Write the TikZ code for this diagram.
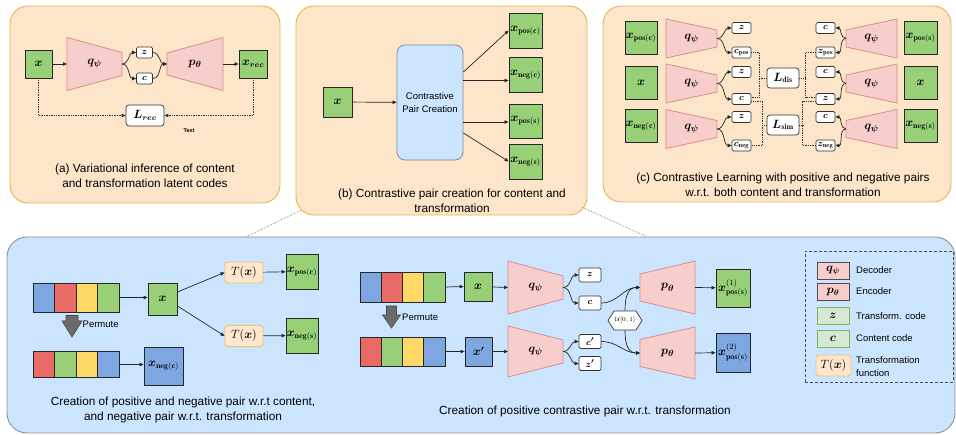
\documentclass[tikz,border=0pt]{standalone}
\usepackage{amsmath,bm}
\usepackage{fontspec}
\setsansfont{Liberation Sans}
\usetikzlibrary{arrows.meta,shapes.symbols,calc}
\definecolor{orF}{HTML}{FDE5C9}
\definecolor{orD}{HTML}{E2B653}
\definecolor{blF}{HTML}{CCE5FF}
\definecolor{blD}{HTML}{8A8F96}
\definecolor{grF}{HTML}{97D077}
\definecolor{bcF}{HTML}{7EA6E0}
\definecolor{rdF}{HTML}{EA6B66}
\definecolor{ylF}{HTML}{FFD966}
\definecolor{pkF}{HTML}{F8CECC}
\definecolor{pkD}{HTML}{D98C8A}
\definecolor{tF}{HTML}{FFE6CC}
\definecolor{tD}{HTML}{E8C46A}
\definecolor{lgF}{HTML}{D5E8D4}
\definecolor{lgD}{HTML}{82B366}
\definecolor{cpD}{HTML}{7C8DA3}
\definecolor{pmF}{HTML}{6B6B6B}
\definecolor{pmD}{HTML}{4A4A4A}
\newcommand{\myMfs}{\sffamily\fontsize{12}{14}\selectfont}
\newcommand{\myTfs}{\sffamily\fontsize{13}{15}\selectfont}
\newcommand{\myCfs}{\sffamily\fontsize{9.5}{11}\selectfont}
\newcommand{\myCapfs}{\sffamily\fontsize{11.8}{15}\selectfont}
\newcommand{\myLfs}{\sffamily\fontsize{9.5}{12.5}\selectfont}
\newcommand{\mytrap}[7]{%
  \draw[trapst] (#2,#4-#5) -- (#3,#4-#6) -- (#3,#4+#6) -- (#2,#4+#5) -- cycle;
  \coordinate (#1-w) at (#2,#4);
  \coordinate (#1-e) at (#3,#4);
  \node[font=\myTfs] (#1) at ({(#2+#3)/2},#4) {#7};}
\begin{document}
\begin{tikzpicture}[x=1pt,y=-1pt,font=\sffamily,
 panelO/.style={draw=orD, fill=orF, line width=0.9pt, rounded corners=18pt, inner sep=0},
 panelB/.style={draw=blD, fill=blF, line width=0.9pt, rounded corners=20pt, inner sep=0},
 gbox/.style={draw=black!85, fill=grF, line width=0.8pt, inner sep=0, font=\myMfs},
 bbox/.style={gbox, fill=bcF},
 code/.style={draw=black!80, fill=white, rounded corners=1.5pt, line width=0.7pt, inner sep=0, minimum width=19pt, minimum height=11pt, font=\myCfs},
 lbox/.style={code, minimum width=32pt, minimum height=20pt, rounded corners=3pt, font=\myMfs},
 tbox/.style={draw=tD, fill=tF, rounded corners=3pt, line width=0.9pt, inner sep=0, minimum width=38pt, minimum height=21pt, font=\myMfs},
 trapst/.style={draw=pkD, fill=pkF, line width=0.8pt},
 arr/.style={-{Triangle[length=4pt,width=3.4pt]}, line width=0.7pt, black!85},
 dotl/.style={densely dotted, line width=0.75pt, black!80},
 link/.style={densely dotted, line width=0.6pt, black!60},
 captxt/.style={font=\myCapfs, align=center},
 lab/.style={font=\myLfs, inner sep=0},
 cell/.style={draw=black!85, line width=0.8pt, minimum width=21.5pt, inner sep=0},
 permst/.style={fill=pmF, draw=pmD, line width=0.6pt},
]
\useasboundingbox (0,0) rectangle (956,435);

% ---------- panel (a)
\node[panelO, minimum width=270pt, minimum height=197pt] (PA) at (145,104.5) {};
\node[gbox, minimum width=27pt, minimum height=28pt] (ax) at (38.5,64) {$\bm{x}$};
\mytrap{qa}{67}{122}{64}{26.5}{11.5}{$\bm{q}_{\bm\psi}$}
\node[code, minimum width=16pt] (az) at (144.5,52.5) {$\bm{z}$};
\node[code, minimum width=16pt] (ac) at (144.5,78.5) {$\bm{c}$};
\mytrap{pa}{167}{223}{64}{11}{26.5}{$\bm{p}_{\bm\theta}$}
\node[gbox, minimum width=28pt, minimum height=28pt] (axr) at (253,64) {$\bm{x}_{\bm{rec}}$};
\node[lbox, minimum width=38pt, minimum height=21pt] (alr) at (145,115.5) {$\bm{L}_{\bm{rec}}$};
\node[font=\sffamily\fontsize{5.5}{6}\selectfont\bfseries] (atx) at (189,131) {Text};
\node[captxt] (acap) at (145,175.5) {(a) Variational inference of content\\and transformation latent codes};
\draw[arr] (ax) -- (qa-w);
\draw[arr] (qa-e) to[out=0,in=180] (az.west);
\draw[arr] (qa-e) to[out=0,in=180] (ac.west);
\draw[arr] (az.east) to[out=0,in=180] (pa-w);
\draw[arr] (ac.east) to[out=0,in=180] (pa-w);
\draw[arr] (pa-e) -- (axr);
\draw[arr,dotl] (ax.south) |- (alr.west);
\draw[arr,dotl] (axr.south) |- (alr.east);

% ---------- panel (b)
\node[panelO, minimum width=291pt, minimum height=209pt] (PB) at (441.5,110.5) {};
\node[gbox, minimum width=29pt, minimum height=30pt] (bx) at (337.5,102) {$\bm{x}$};
\node[draw=cpD, fill=blF, rounded corners=8pt, line width=0.8pt, minimum width=66pt, minimum height=115pt, align=center, font=\myLfs, inner sep=0] (cpc) at (430,102.5) {Contrastive\\Pair Creation};
\node[gbox, minimum width=33pt, minimum height=35pt] (bpc) at (525.5,30.5) {$\bm{x}_{\mathbf{pos(c)}}$};
\node[gbox, minimum width=33pt, minimum height=35pt] (bnc) at (525.5,74.5) {$\bm{x}_{\mathbf{neg(c)}}$};
\node[gbox, minimum width=33pt, minimum height=34pt] (bps) at (525.5,121) {$\bm{x}_{\mathbf{pos(s)}}$};
\node[gbox, minimum width=33pt, minimum height=35pt] (bns) at (525.5,161.5) {$\bm{x}_{\mathbf{neg(s)}}$};
\draw[arr] (bx) -- (cpc);
\draw[arr] ($(cpc.east)+(0,-30.5)$) -- (bpc.west);
\draw[arr] ($(cpc.east)+(0,-22)$) coordinate (t1) -- (t1 -| bnc.west);
\draw[arr] ($(cpc.east)+(0,19.5)$) coordinate (t2) -- (t2 -| bps.west);
\draw[arr] ($(cpc.east)+(0,30.5)$) -- (bns.west);
\node[captxt] (bcap) at (452,201) {(b) Contrastive pair creation for content and\\transformation};

% ---------- panel (c)
\node[panelO, minimum width=348pt, minimum height=196pt] (PC) at (777,104) {};
\node[gbox, minimum width=32pt, minimum height=33pt] (cl1) at (641,37.5) {$\bm{x}_{\mathbf{pos(c)}}$};
\node[gbox, minimum width=32pt, minimum height=33pt] (cl2) at (641,82.5) {$\bm{x}$};
\node[gbox, minimum width=32pt, minimum height=33pt] (cl3) at (641,125.5) {$\bm{x}_{\mathbf{neg(c)}}$};
\mytrap{ql1}{666}{717}{38.5}{19.5}{8.5}{$\bm{q}_{\bm\psi}$}
\mytrap{ql2}{666}{717}{83.5}{19.5}{8.5}{$\bm{q}_{\bm\psi}$}
\mytrap{ql3}{666}{717}{129}{19.5}{8.5}{$\bm{q}_{\bm\psi}$}
\node[code] (lz1) at (741.5,28) {$\bm{z}$};
\node[code] (lcp) at (741.5,52.5) {$\bm{c}_{\mathbf{pos}}$};
\node[code] (lz2) at (741.5,72) {$\bm{z}$};
\node[code] (lc) at (741.5,99) {$\bm{c}$};
\node[code] (lz3) at (741.5,117) {$\bm{z}$};
\node[code] (lcn) at (741.5,145.5) {$\bm{c}_{\mathbf{neg}}$};
\node[lbox] (ldis) at (783,78) {$\bm{L}_{\mathbf{dis}}$};
\node[lbox] (lsim) at (783,125) {$\bm{L}_{\mathbf{sim}}$};
\node[code] (rc1) at (825.5,28) {$\bm{c}$};
\node[code] (rzp) at (825.5,52.5) {$\bm{z}_{\mathbf{pos}}$};
\node[code] (rc2) at (825.5,72) {$\bm{c}$};
\node[code] (rz) at (825.5,99) {$\bm{z}$};
\node[code] (rc3) at (825.5,117) {$\bm{c}$};
\node[code] (rzn) at (825.5,145.5) {$\bm{z}_{\mathbf{neg}}$};
\mytrap{qr1}{846}{897}{38.5}{8.5}{19.5}{$\bm{q}_{\bm\psi}$}
\mytrap{qr2}{846}{897}{83.5}{8.5}{19.5}{$\bm{q}_{\bm\psi}$}
\mytrap{qr3}{846}{897}{129}{8.5}{19.5}{$\bm{q}_{\bm\psi}$}
\node[gbox, minimum width=33pt, minimum height=33pt] (cr1) at (920.5,37.5) {$\bm{x}_{\mathbf{pos(s)}}$};
\node[gbox, minimum width=33pt, minimum height=33pt] (cr2) at (920.5,82.5) {$\bm{x}$};
\node[gbox, minimum width=33pt, minimum height=33pt] (cr3) at (920.5,125.5) {$\bm{x}_{\mathbf{neg(s)}}$};
\draw[arr] (ql1-e) to[out=0,in=180] (lz1.west);
\draw[arr] (ql1-e) to[out=0,in=180] (lcp.west);
\draw[arr] (ql2-e) to[out=0,in=180] (lz2.west);
\draw[arr] (ql2-e) to[out=0,in=180] (lc.west);
\draw[arr] (ql3-e) to[out=0,in=180] (lz3.west);
\draw[arr] (ql3-e) to[out=0,in=180] (lcn.west);
\draw[arr] (qr1-w) to[out=180,in=0] (rc1.east);
\draw[arr] (qr1-w) to[out=180,in=0] (rzp.east);
\draw[arr] (qr2-w) to[out=180,in=0] (rc2.east);
\draw[arr] (qr2-w) to[out=180,in=0] (rz.east);
\draw[arr] (qr3-w) to[out=180,in=0] (rc3.east);
\draw[arr] (qr3-w) to[out=180,in=0] (rzn.east);
\draw[dotl] (lcp.east) -- ++(8,0) |- ($(lc.east)+(0,-2)$);
\draw[dotl] (ldis.west) -- ++(-8,0);
\draw[dotl] ($(lc.east)+(0,2)$) -- ++(11,0) |- (lcn.east);
\draw[dotl] (lsim.west) -- ++(-5,0);
\draw[dotl] (rzp.west) -- ++(-10,0) |- ($(rz.west)+(0,-2)$);
\draw[dotl] (ldis.east) -- ++(7,0);
\draw[dotl] ($(rz.west)+(0,2)$) -- ++(-13,0) |- (rzn.west);
\draw[dotl] (lsim.east) -- ++(4,0);
\node[captxt] (ccap) at (783,184.5) {(c) Contrastive Learning with positive and negative pairs\\w.r.t. both content and transformation};

% ---------- bottom panel
\node[panelB, minimum width=948pt, minimum height=196pt] (PD) at (481,335) {};
\draw[link] ($(PB.south west)+(5,-5)$) -- ($(PD.north west)+(240,0)$);
\draw[link] ($(PB.south east)+(-5,-8)$) -- ($(PD.north west)+(640,0)$);

% bottom-left
\node[cell, fill=bcF, minimum height=29pt] (s1a) at (43.75,297.5) {};
\node[cell, fill=rdF, minimum height=29pt] (s1b) at (65.25,297.5) {};
\node[cell, fill=ylF, minimum height=29pt] (s1c) at (86.75,297.5) {};
\node[cell, fill=grF, minimum height=29pt] (s1d) at (108.25,297.5) {};
\node[cell, fill=rdF, minimum height=26pt] (s2a) at (43.75,364.5) {};
\node[cell, fill=grF, minimum height=26pt] (s2b) at (65.25,364.5) {};
\node[cell, fill=ylF, minimum height=26pt] (s2c) at (86.75,364.5) {};
\node[cell, fill=bcF, minimum height=26pt] (s2d) at (108.25,364.5) {};
\node[gbox, minimum width=29pt, minimum height=32pt] (dx) at (162.5,299) {$\bm{x}$};
\node[bbox, minimum width=39pt, minimum height=38pt] (dnc) at (163.5,366) {$\bm{x}_{\mathbf{neg(c)}}$};
\node[tbox] (dt1) at (244,272.5) {$T(\bm{x})$};
\node[tbox] (dt2) at (244,336) {$T(\bm{x})$};
\node[gbox, minimum width=32pt, minimum height=35pt] (dpc) at (302,271.5) {$\bm{x}_{\mathbf{pos(c)}}$};
\node[gbox, minimum width=32pt, minimum height=35pt] (dns) at (302,335.5) {$\bm{x}_{\mathbf{neg(s)}}$};
\draw[arr] (s1d.east) -- (s1d.east -| dx.west);
\draw[arr] (s2d.east) -- (s2d.east -| dnc.west);
\draw[arr] ($(dx.east)+(0,-7)$) -- (dt1.west);
\draw[arr] ($(dx.east)+(0,7)$) -- (dt2.west);
\draw[arr] (dt1) -- (dpc);
\draw[arr] (dt2) -- (dns);
\draw[permst] (66,315.5) -- (78,315.5) -- (78,321) -- (82,321) -- (72,337) -- (62,321) -- (66,321) -- cycle;
\node[lab, anchor=west] (perm1) at (82.5,324) {Permute};
\node[captxt] (dcap) at (183,410) {Creation of positive and negative pair w.r.t content,\\and negative pair w.r.t. transformation};

% bottom-middle
\node[cell, fill=bcF, minimum width=21.25pt, minimum height=30pt] (s3a) at (370.6,287) {};
\node[cell, fill=rdF, minimum width=21.25pt, minimum height=30pt] (s3b) at (391.9,287) {};
\node[cell, fill=ylF, minimum width=21.25pt, minimum height=30pt] (s3c) at (413.1,287) {};
\node[cell, fill=grF, minimum width=21.25pt, minimum height=30pt] (s3d) at (434.4,287) {};
\node[cell, fill=rdF, minimum width=21.25pt, minimum height=29pt] (s4a) at (370.6,351.5) {};
\node[cell, fill=grF, minimum width=21.25pt, minimum height=29pt] (s4b) at (391.9,351.5) {};
\node[cell, fill=ylF, minimum width=21.25pt, minimum height=29pt] (s4c) at (413.1,351.5) {};
\node[cell, fill=bcF, minimum width=21.25pt, minimum height=29pt] (s4d) at (434.4,351.5) {};
\node[gbox, minimum width=28pt, minimum height=29pt] (ex) at (478,286.5) {$\bm{x}$};
\node[bbox, minimum width=27pt, minimum height=29pt] (ex2) at (478.5,351.5) {$\bm{x'}$};
\mytrap{eq1}{508}{563}{287.5}{26.5}{11.5}{$\bm{q}_{\bm\psi}$}
\mytrap{eq2}{508}{563}{351.5}{25.5}{11.5}{$\bm{q}_{\bm\psi}$}
\node[code, minimum width=22pt, minimum height=14pt] (ez1) at (590,275) {$\bm{z}$};
\node[code, minimum width=22pt, minimum height=14pt] (ec1) at (590,303) {$\bm{c}$};
\node[code, minimum width=22pt, minimum height=14pt] (ec2) at (590,341.5) {$\bm{c'}$};
\node[code, minimum width=22pt, minimum height=14pt] (ez2) at (590,363.5) {$\bm{z'}$};
\mytrap{ep1}{640}{695}{287.5}{13.5}{26.5}{$\bm{p}_{\bm\theta}$}
\mytrap{ep2}{640}{695}{353}{13.5}{26}{$\bm{p}_{\bm\theta}$}
\node[gbox, minimum width=34pt, minimum height=38pt] (ex1o) at (733,288) {$\bm{x}^{(1)}_{\mathbf{pos(s)}}$};
\node[bbox, minimum width=34pt, minimum height=39pt] (ex2o) at (733,352.5) {$\bm{x}^{(2)}_{\mathbf{pos(s)}}$};
\node[draw=black!80, fill=white, line width=0.7pt, shape=signal, signal to=east and west, signal pointer angle=115, minimum width=34pt, minimum height=19pt, inner sep=0, font=\fontsize{6.5}{7}\selectfont] (hex) at (625,320.5) {$\mathcal{U}[0,1]$};
\draw[arr] (s3d.east) -- (ex.west);
\draw[arr] (ex) -- (eq1-w);
\draw[arr] (eq1-e) to[out=0,in=180] (ez1.west);
\draw[arr] (eq1-e) to[out=0,in=180] (ec1.west);
\draw[arr] (s4d.east) -- (ex2.west);
\draw[arr] (ex2) -- (eq2-w);
\draw[arr] (eq2-e) to[out=0,in=180] (ec2.west);
\draw[arr] (eq2-e) to[out=0,in=180] (ez2.west);
\draw[arr] (ec1.east) to[out=0,in=180] (ep1-w);
\draw[arr] (hex.north) .. controls +(0,-14) and +(-12,0) .. (ep1-w);
\draw[arr] (ec2.east) to[out=0,in=180] (ep2-w);
\draw[arr] (hex.south) .. controls +(0,14) and +(-12,0) .. (ep2-w);
\draw[arr] (ep1-e) -- (ex1o);
\draw[arr] (ep2-e) -- (ex2o);
\draw[permst] (386.5,306) -- (396.5,306) -- (396.5,315) -- (400.5,315) -- (391.5,328) -- (382.5,315) -- (386.5,315) -- cycle;
\node[lab, anchor=west] (perm2) at (402,317) {Permute};
\node[captxt] (ecap) at (585,411) {Creation of positive contrastive pair w.r.t. transformation};

% legend
\node[draw=black!70, densely dashed, line width=0.7pt, minimum width=148pt, minimum height=131pt, inner sep=0] (leg) at (879,316.5) {};
\node[draw=black!70, fill=pkF, line width=0.8pt, minimum width=32pt, minimum height=17pt, inner sep=0, font=\myMfs] (gq) at (833,270.5) {$\bm{q}_{\bm\psi}$};
\node[draw=black!70, fill=pkF, line width=0.8pt, minimum width=32pt, minimum height=17pt, inner sep=0, font=\myMfs] (gp) at (833,292) {$\bm{p}_{\bm\theta}$};
\node[draw=lgD, fill=lgF, line width=0.8pt, minimum width=32pt, minimum height=17pt, inner sep=0, font=\myMfs] (gz) at (833,316) {$\bm{z}$};
\node[draw=lgD, fill=lgF, line width=0.8pt, minimum width=32pt, minimum height=17pt, inner sep=0, font=\myMfs] (gc) at (833,338.5) {$\bm{c}$};
\node[tbox, minimum width=35pt] (gt) at (833.5,365.5) {$T(\bm{x})$};
\node[lab, anchor=west] (gql) at (856,270) {Decoder};
\node[lab, anchor=west] (gpl) at (856,291) {Encoder};
\node[lab, anchor=west] (gzl) at (856,316) {Transform. code};
\node[lab, anchor=west] (gcl) at (856,338) {Content code};
\node[lab, anchor=west, align=left] (gtl) at (856,366.5) {Transformation\\function};
\end{tikzpicture}
\end{document}
